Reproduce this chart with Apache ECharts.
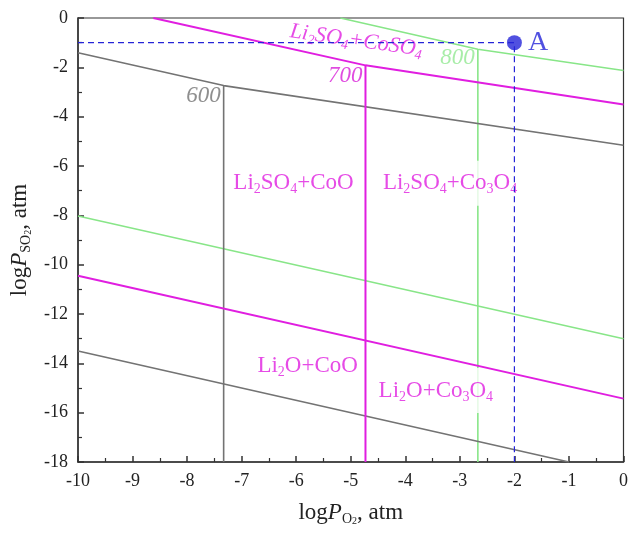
<!DOCTYPE html>
<html>
<head>
    <meta charset="UTF-8">
    <title>Li-Co-S-O predominance diagram</title>
    <script src="https://cdn.jsdelivr.net/npm/echarts@6/dist/echarts.min.js"></script>
    <style>
        body { margin: 0; background: #fff; }
        #main { width: 631px; height: 533px; }
    </style>
</head>
<body>
    <div id="main"></div>
    <script type="text/javascript">
        // boundary lines, [logPO2, logPSO2]
        const upper600 = [[-10, -1.41], [-7.33, -2.74], [0, -5.16]];
        const vert600 = [[-7.33, -2.74], [-7.33, -18]];
        const lower600 = [[-10, -13.5], [-1.0, -18]];

        const upper700 = [[-8.62, 0], [-4.73, -1.92], [0, -3.51]];
        const vert700 = [[-4.73, -1.92], [-4.73, -18]];
        const lower700 = [[-10, -10.45], [0, -15.43]];

        const upper800 = [[-5.19, 0], [-2.67, -1.27], [0, -2.13]];
        const vert800 = [[-2.67, -1.27], [-2.67, -18]];
        const lower800 = [[-10, -8.03], [0, -13.0]];

        const pointA = [-2, -1];
        const guideA = [[-10, -1], [-2, -1], [-2, -18]];

        // field labels
        const fieldLabels = [
            { text: '{n|Li}{s|2}{n|SO}{s|4}{n|+CoO}', at: [-6.05, -6.7] },
            { text: '{n|Li}{s|2}{n|SO}{s|4}{n|+Co}{s|3}{n|O}{s|4}', at: [-3.18, -6.7] },
            { text: '{n|Li}{s|2}{n|O+CoO}', at: [-5.79, -14.12] },
            { text: '{n|Li}{s|2}{n|O+Co}{s|3}{n|O}{s|4}', at: [-3.44, -15.1] }
        ];
        const tempLabels = [
            { text: '600', at: [-7.33, -3.17], color: '#737373' },
            { text: '700', at: [-4.73, -2.36], color: '#d81fd8' },
            { text: '800', at: [-2.67, -1.6], color: '#92e892' }
        ];
        const sulfateLabel = { text: '{n|Li}{s|2}{n|SO}{s|4}{n|+CoSO}{s|4}', at: [-4.9, -0.92] };

        const serif = '"Liberation Serif", "DejaVu Serif", serif';
        const GRAY = '#737373';
        const MAG = '#e01ee0';
        const GREEN = '#88e688';
        const BLUE = '#2424d8';

        function richFor(color, size, italic) {
            const st = italic ? 'italic' : 'normal';
            return {
                n: { fontFamily: serif, fontSize: size, lineHeight: size + 4, color: color, fontStyle: st },
                s: { fontFamily: serif, fontSize: Math.round(size * 0.62), verticalAlign: 'bottom', color: color, fontStyle: st },
                i: { fontFamily: serif, fontSize: size, lineHeight: size + 4, color: color, fontStyle: 'italic' },
                ss: { fontFamily: serif, fontSize: Math.round(size * 0.45), verticalAlign: 'bottom', color: color }
            };
        }

        function line(data, color, width, z) {
            return {
                type: 'line', data: data, symbol: 'none', silent: true, z: z,
                lineStyle: { color: color, width: width }
            };
        }

        const axisCommon = {
            axisLine: { onZero: false, lineStyle: { color: '#333', width: 1.5 } },
            axisTick: { inside: true, length: 6, lineStyle: { color: '#333', width: 1.5 } },
            minorTick: { show: true, splitNumber: 2, length: 4, lineStyle: { color: '#333', width: 1.2 } },
            axisLabel: { fontFamily: serif, fontSize: 18, color: '#222', margin: 10 },
            splitLine: { show: false }
        };

        const chart = echarts.init(document.getElementById('main'));

        const option = {
            animation: false,
            grid: {
                left: 78, right: 3, top: 18, bottom: 71,
                show: true, borderColor: '#333', borderWidth: 1.2, backgroundColor: 'transparent'
            },
            xAxis: Object.assign({
                type: 'value', min: -10, max: 0, interval: 1,
                name: 'log{i|P}{s|O}{ss|2}{n|, atm}',
                nameLocation: 'middle', nameGap: 37,
                nameTextStyle: { fontFamily: serif, fontSize: 23, color: '#222', rich: richFor('#222', 23, false) }
            }, axisCommon),
            yAxis: Object.assign({
                type: 'value', min: -18, max: 0, interval: 2,
                name: 'log{i|P}{s|SO}{ss|2}{n|, atm}',
                nameLocation: 'middle', nameGap: 37, nameRotate: 90,
                nameTextStyle: { fontFamily: serif, fontSize: 23, color: '#222', rich: richFor('#222', 23, false) }
            }, axisCommon),
            series: [
                line(lower800, GREEN, 1.6, 1),
                line(upper800, GREEN, 1.6, 1),
                line(vert800, GREEN, 1.6, 1),
                {
                    type: 'scatter', silent: true, z: 1.5,
                    symbolSize: 0,
                    data: fieldLabels.map(l => ({ value: l.at, name: l.text })),
                    label: {
                        show: true, position: 'inside',
                        formatter: p => p.name,
                        backgroundColor: '#fff', padding: [9, 3, 9, 3],
                        rich: richFor(MAG, 23, false)
                    }
                },
                line(upper600, GRAY, 1.6, 2),
                line(vert600, GRAY, 1.6, 2),
                line(lower600, GRAY, 1.6, 2),
                line(upper700, MAG, 2, 2),
                line(vert700, MAG, 2, 2),
                line(lower700, MAG, 2, 2),
                {
                    type: 'scatter', silent: true, z: 5,
                    symbolSize: 0,
                    data: tempLabels.map(l => ({
                        value: l.at, name: l.text,
                        label: { color: l.color }
                    })),
                    label: {
                        show: true, position: 'left', distance: 3,
                        formatter: p => p.name,
                        fontFamily: serif, fontSize: 23, fontStyle: 'italic'
                    }
                },
                {
                    type: 'scatter', silent: true, z: 5,
                    symbolSize: 0,
                    data: [{ value: sulfateLabel.at, name: sulfateLabel.text }],
                    label: {
                        show: true, position: 'inside', rotate: -8,
                        formatter: p => p.name,
                        rich: richFor(MAG, 22, true)
                    }
                },
                {
                    type: 'line', data: guideA, symbol: 'none', silent: true, z: 6,
                    lineStyle: { color: BLUE, width: 1.2, type: [6, 4] }
                },
                {
                    type: 'scatter', silent: true, z: 7,
                    data: [pointA], symbolSize: 15,
                    itemStyle: { color: BLUE },
                    label: {
                        show: true, position: 'right', distance: 6,
                        formatter: 'A', fontFamily: serif, fontSize: 28, color: BLUE
                    }
                }
            ]
        };

        chart.setOption(option);
    </script>
</body>
</html>
